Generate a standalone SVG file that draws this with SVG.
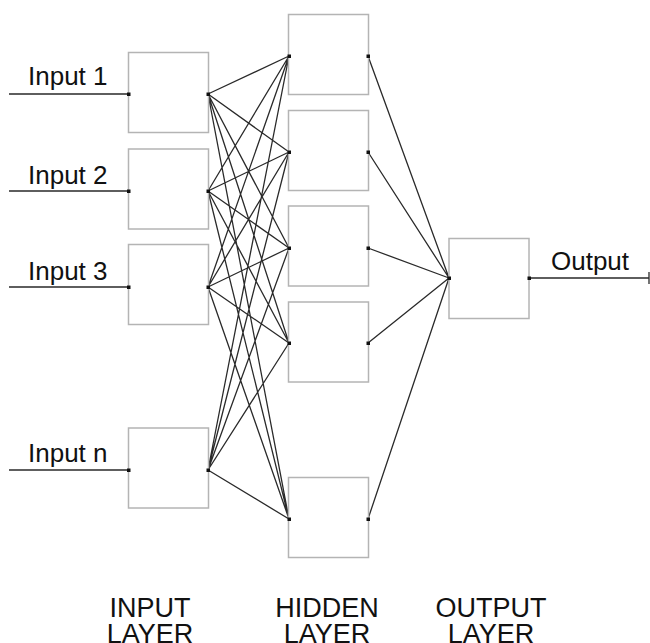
<svg xmlns="http://www.w3.org/2000/svg" width="650" height="643" viewBox="0 0 650 643">
<style>
.box{fill:#fff;stroke:#b4b4b4;stroke-width:1.5}
.ln{stroke:#2a2a2a;stroke-width:1.3;fill:none}
.dot{fill:#111}
.lbl{font-family:"Liberation Sans",Arial,sans-serif;font-size:26px;fill:#111}
.cap{font-family:"Liberation Sans",Arial,sans-serif;font-size:27px;fill:#111;text-anchor:middle}
</style>
<rect width="650" height="643" fill="#fff"/>
<g id="connectors">
<path class="ln" d="M9,94H129M9,191H129M9,287H129M9,470H129M529,278H649M649,272V284"/>
<path class="ln" d="M208,94L289,56M208,94L289,152M208,94L289,248M208,94L289,343M208,94L289,519
M208,191L289,56M208,191L289,152M208,191L289,248M208,191L289,343M208,191L289,519
M208,287L289,56M208,287L289,152M208,287L289,248M208,287L289,343M208,287L289,519
M208,470L289,56M208,470L289,152M208,470L289,248M208,470L289,343M208,470L289,519"/>
<path class="ln" d="M368,56L449,278M368,152L449,278M368,248L449,278M368,343L449,278M368,519L449,278"/>
</g>
<g id="input1"><rect class="box" x="128.5" y="52.5" width="80" height="80"/><rect class="dot" x="127" y="92.5" width="3.5" height="3.5"/><rect class="dot" x="206.5" y="92.5" width="3.5" height="3.5"/><text class="lbl" x="28" y="85">Input 1</text></g>
<g id="input2"><rect class="box" x="128.5" y="149" width="80" height="80"/><rect class="dot" x="127" y="189.5" width="3.5" height="3.5"/><rect class="dot" x="206.5" y="189.5" width="3.5" height="3.5"/><text class="lbl" x="28" y="184">Input 2</text></g>
<g id="input3"><rect class="box" x="128.5" y="244.5" width="80" height="80"/><rect class="dot" x="127" y="285.5" width="3.5" height="3.5"/><rect class="dot" x="206.5" y="285.5" width="3.5" height="3.5"/><text class="lbl" x="28" y="280">Input 3</text></g>
<g id="inputn"><rect class="box" x="128.5" y="428" width="80" height="80"/><rect class="dot" x="127" y="468.5" width="3.5" height="3.5"/><rect class="dot" x="206.5" y="468.5" width="3.5" height="3.5"/><text class="lbl" x="28" y="462">Input n</text></g>
<g id="hidden1"><rect class="box" x="288.5" y="14.5" width="80" height="80"/><rect class="dot" x="287.5" y="54.5" width="3.5" height="3.5"/><rect class="dot" x="366.5" y="54.5" width="3.5" height="3.5"/></g>
<g id="hidden2"><rect class="box" x="288.5" y="110.5" width="80" height="80"/><rect class="dot" x="287.5" y="150.5" width="3.5" height="3.5"/><rect class="dot" x="366.5" y="150.5" width="3.5" height="3.5"/></g>
<g id="hidden3"><rect class="box" x="288.5" y="206" width="80" height="80"/><rect class="dot" x="287.5" y="246.5" width="3.5" height="3.5"/><rect class="dot" x="366.5" y="246.5" width="3.5" height="3.5"/></g>
<g id="hidden4"><rect class="box" x="288.5" y="302" width="80" height="80"/><rect class="dot" x="287.5" y="341.5" width="3.5" height="3.5"/><rect class="dot" x="366.5" y="341.5" width="3.5" height="3.5"/></g>
<g id="hidden5"><rect class="box" x="288.5" y="477.5" width="80" height="80"/><rect class="dot" x="287.5" y="517.5" width="3.5" height="3.5"/><rect class="dot" x="366.5" y="517.5" width="3.5" height="3.5"/></g>
<g id="output"><rect class="box" x="449" y="238.5" width="80" height="80"/><rect class="dot" x="447.5" y="276.5" width="3.5" height="3.5"/><rect class="dot" x="527.5" y="276.5" width="3.5" height="3.5"/><text class="lbl" x="551" y="270">Output</text></g>
<g id="captions">
<text class="cap" x="150" y="617">INPUT</text><text class="cap" x="150" y="643">LAYER</text>
<text class="cap" x="327" y="617">HIDDEN</text><text class="cap" x="327" y="643">LAYER</text>
<text class="cap" x="491" y="617">OUTPUT</text><text class="cap" x="491" y="643">LAYER</text>
</g>
</svg>
